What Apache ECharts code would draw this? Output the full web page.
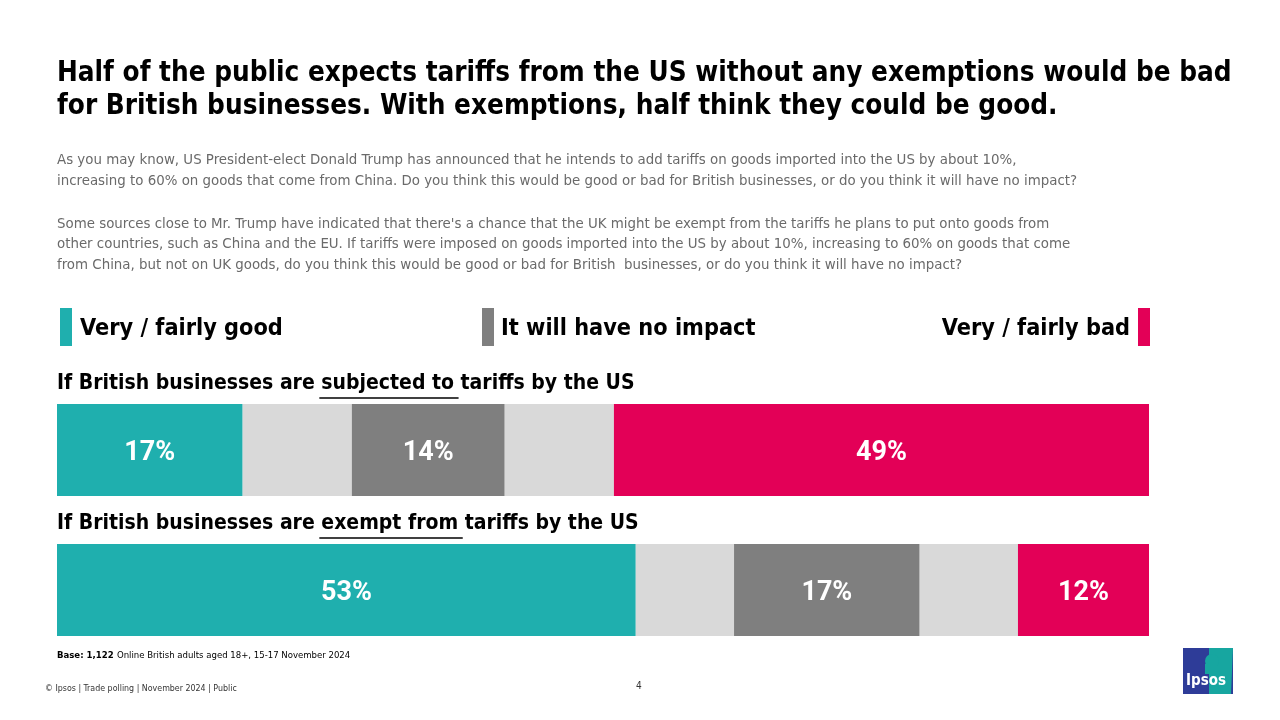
<!DOCTYPE html>
<html><head><meta charset="utf-8">
<script src="https://cdn.jsdelivr.net/npm/echarts@6/dist/echarts.min.js"></script>
<style>html,body{margin:0;padding:0;background:#fff}#c{width:1280px;height:720px}</style>
</head><body><div id="c"></div>
<script>
// ---- data ----
const categories = ['If British businesses are subjected to tariffs by the US', 'If British businesses are exempt from tariffs by the US'];
const seriesNames = ['Very / fairly good', "Don't know", 'It will have no impact', "Don't know ", 'Very / fairly bad'];
const good = [17, 53];
const dkLeft = [10, 9];
const noImpact = [14, 17];
const dkRight = [10, 9];
const bad = [49, 12];

const FONT = '"Liberation Sans Narrow", "DejaVu Sans Condensed", Roboto, sans-serif';
const C_GOOD = '#1FAFAE', C_NONE = '#7F7F7F', C_DK = '#D9D9D9', C_BAD = '#E30057';

const mctx = document.createElement('canvas').getContext('2d');
function tw(txt, size, weight) { mctx.font = (weight || 'normal') + ' ' + size + 'px ' + FONT; return mctx.measureText(txt).width; }
function fit(txt, width, weight) { return +(100 * width / tw(txt, 100, weight)).toFixed(2); }

function rowLabel(pre, und, post, y) {
  const size = 21, w = 'bold';
  const x0 = 57;
  const w1 = tw(pre, size, w), w2 = tw(und, size, w);
  const st = { font: w + ' ' + size + 'px ' + FONT, fill: '#000' };
  return [
    { type: 'text', left: x0, top: y - 13, style: Object.assign({ text: pre }, st) },
    { type: 'text', left: x0 + w1, top: y - 13, style: Object.assign({ text: und }, st) },
    { type: 'text', left: x0 + w1 + w2, top: y - 13, style: Object.assign({ text: post }, st) },
    { type: 'line', shape: { x1: x0 + w1 - 2, y1: y + 12, x2: x0 + w1 + w2 - 2, y2: y + 12 }, style: { stroke: '#000', lineWidth: 1.6 } }
  ];
}

const title1 = 'Half of the public expects tariffs from the US without any exemptions would be bad';
const title2 = 'for British businesses. With exemptions, half think they could be good.';
const TS = fit(title1, 1175, 'bold');

const sub = [
  [160, 'As you may know, US President-elect Donald Trump has announced that he intends to add tariffs on goods imported into the US by about 10%,'],
  [181, 'increasing to 60% on goods that come from China. Do you think this would be good or bad for British businesses, or do you think it will have no impact?'],
  [224, "Some sources close to Mr. Trump have indicated that there's a chance that the UK might be exempt from the tariffs he plans to put onto goods from"],
  [244, 'other countries, such as China and the EU. If tariffs were imposed on goods imported into the US by about 10%, increasing to 60% on goods that come'],
  [265, 'from China, but not on UK goods, do you think this would be good or bad for British  businesses, or do you think it will have no impact?']
];
const SS = fit(sub[1][1], 1020, 'normal');
const LS = fit(seriesNames[0], 203, 'bold');

const graphics = [
  { type: 'text', left: 57, top: 76 - TS * 0.58, style: { text: title1, font: 'bold ' + TS + 'px ' + FONT, fill: '#000' } },
  { type: 'text', left: 57, top: 109 - TS * 0.58, style: { text: title2, font: 'bold ' + TS + 'px ' + FONT, fill: '#000' } },
  // legend
  { type: 'rect', shape: { x: 60, y: 308, width: 12, height: 38 }, style: { fill: C_GOOD } },
  { type: 'text', left: 80, top: 331 - LS * 0.58, style: { text: seriesNames[0], font: 'bold ' + LS + 'px ' + FONT, fill: '#000' } },
  { type: 'rect', shape: { x: 482, y: 308, width: 12, height: 38 }, style: { fill: C_NONE } },
  { type: 'text', left: 501, top: 331 - LS * 0.58, style: { text: seriesNames[2], font: 'bold ' + LS + 'px ' + FONT, fill: '#000' } },
  { type: 'rect', shape: { x: 1138, y: 308, width: 12, height: 38 }, style: { fill: C_BAD } },
  { type: 'text', right: 150, top: 331 - LS * 0.58, style: { text: seriesNames[4], font: 'bold ' + LS + 'px ' + FONT, fill: '#000' } },
  // footnotes
  { type: 'text', left: 57, top: 650, style: { rich: { b: { fontWeight: 'bold', fontSize: 9.5, fontFamily: FONT, color: '#000' }, n: { fontSize: 9.5, fontFamily: FONT, color: '#000' } }, text: '{b|Base: 1,122} {n|Online British adults aged 18+, 15-17 November 2024}' } },
  { type: 'text', left: 45, top: 684, style: { text: '\u00A9 Ipsos | Trade polling | November 2024 | Public', font: '8.8px ' + FONT, fill: '#333' } },
  { type: 'text', left: 636, top: 681, style: { text: '4', font: '10px ' + FONT, fill: '#333' } },
  // logo
  { type: 'rect', shape: { x: 1183, y: 648, width: 50, height: 46 }, style: { fill: '#2E3C98' } },
  { type: 'polygon', shape: { points: [[1209, 648], [1233, 648], [1231, 694], [1209, 694]] }, style: { fill: '#17A6A0' } },
  { type: 'circle', shape: { cx: 1212, cy: 661, r: 7 }, style: { fill: '#17A6A0' } },
  { type: 'rect', shape: { x: 1205, y: 664, width: 12, height: 10 }, style: { fill: '#17A6A0' } },
  { type: 'text', left: 1186, top: 674, style: { text: 'Ipsos', font: 'bold 15px ' + FONT, fill: '#fff' } }
];
sub.forEach(s => graphics.push({ type: 'text', left: 57, top: s[0] + 2 - SS * 0.6, style: { text: s[1], font: SS + 'px ' + FONT, fill: '#6A6A6A' } }));
graphics.push(...rowLabel('If British businesses are ', 'subjected to ', 'tariffs by the US', 386));
graphics.push(...rowLabel('If British businesses are ', 'exempt from ', 'tariffs by the US', 526));

const lbl = { show: true, position: 'inside', color: '#fff', fontSize: 27, fontWeight: 'bold', fontFamily: 'Roboto, sans-serif', formatter: p => p.value + '%', offset: [0, 3] };
function ser(name, data, color, showLabel) {
  return { name, type: 'bar', stack: 'all', data, barWidth: 92, itemStyle: { color }, label: showLabel ? lbl : { show: false }, silent: true };
}

const chart = echarts.init(document.getElementById('c'));
chart.setOption({
  animation: false,
  backgroundColor: '#fff',
  grid: { left: 57, right: 131, top: 380, height: 280 },
  xAxis: { type: 'value', min: 0, max: 100, show: false },
  yAxis: { type: 'category', data: categories, inverse: true, show: false },
  graphic: graphics,
  series: [
    ser(seriesNames[0], good, C_GOOD, true),
    ser(seriesNames[1], dkLeft, C_DK, false),
    ser(seriesNames[2], noImpact, C_NONE, true),
    ser(seriesNames[3], dkRight, C_DK, false),
    ser(seriesNames[4], bad, C_BAD, true)
  ]
});
</script></body></html>
